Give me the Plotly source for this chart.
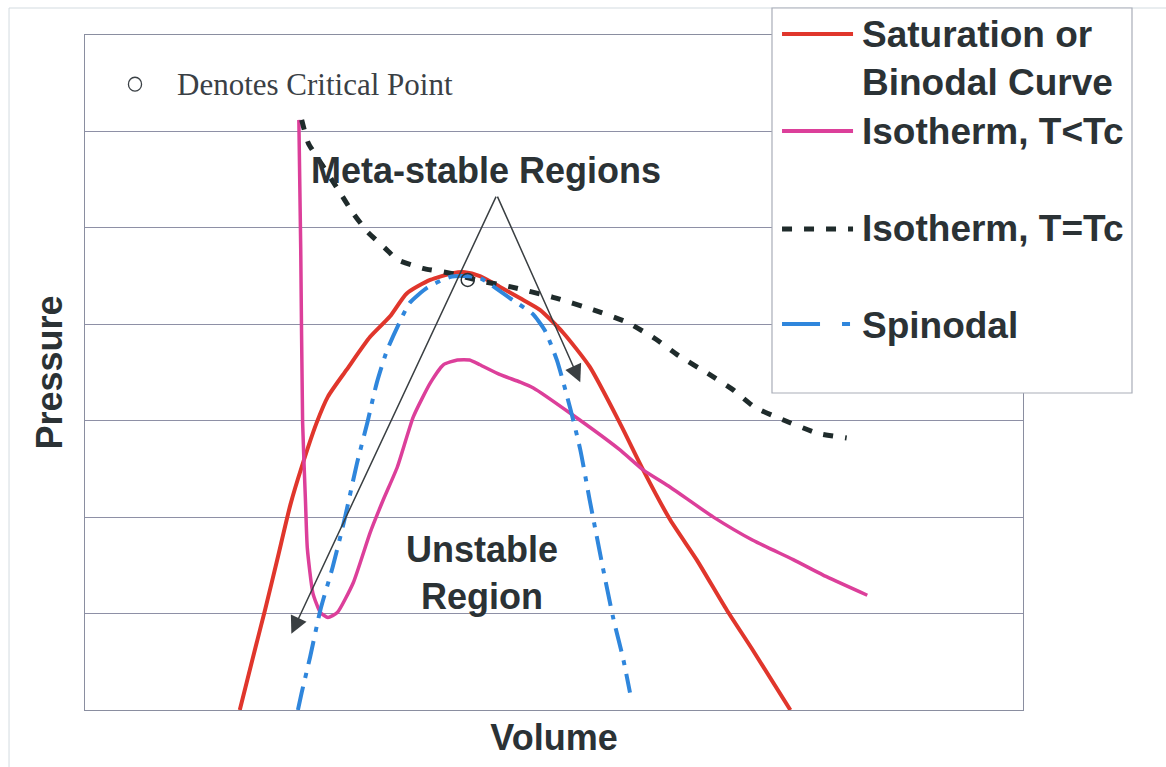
import plotly.graph_objects as go

# ---- data (Volume, Pressure in arbitrary units) ----
sat_v = [1.65, 1.81, 1.92, 2.05, 2.19, 2.31, 2.47, 2.59, 2.79, 3.04, 3.25, 3.43, 3.68, 3.92, 4.05,
         4.21, 4.42, 4.64, 4.85, 5.10, 5.38, 5.70, 5.95, 6.24, 6.52, 6.84, 7.12, 7.52]
sat_p = [0.00, 0.62, 1.04, 1.56, 2.13, 2.52, 2.98, 3.25, 3.53, 3.87, 4.08, 4.32, 4.46, 4.53, 4.54,
         4.50, 4.39, 4.27, 4.15, 3.91, 3.56, 2.98, 2.49, 1.97, 1.56, 1.04, 0.62, 0.00]

iso_lt_v = [2.28, 2.30, 2.32, 2.35, 2.37, 2.43, 2.51, 2.59, 2.69, 2.86, 3.04, 3.18, 3.33, 3.50, 3.68,
            3.82, 3.97, 4.10, 4.21, 4.42, 4.64, 4.78, 5.17, 5.70, 5.95, 6.24, 6.70, 7.12, 7.55, 7.91, 8.34]
iso_lt_p = [6.12, 4.77, 2.98, 2.18, 1.68, 1.21, 1.01, 0.96, 1.01, 1.32, 1.84, 2.18, 2.52, 3.04, 3.39,
            3.58, 3.63, 3.63, 3.58, 3.48, 3.40, 3.34, 3.08, 2.70, 2.49, 2.31, 2.00, 1.76, 1.56, 1.38, 1.19]

iso_c_v = [2.31, 2.38, 2.53, 2.69, 2.86, 3.01, 3.22, 3.33, 3.60, 3.89, 4.21, 4.53, 4.99, 5.42, 5.78,
           6.08, 6.32, 6.64, 6.91, 7.14, 7.44, 7.81, 8.12]
iso_c_p = [6.12, 5.88, 5.65, 5.41, 5.15, 4.96, 4.77, 4.67, 4.58, 4.53, 4.45, 4.39, 4.28, 4.15, 4.02,
           3.85, 3.68, 3.49, 3.32, 3.14, 3.01, 2.87, 2.82]

spin_v = [2.27, 2.31, 2.40, 2.51, 2.64, 2.77, 2.90, 3.01, 3.11, 3.22, 3.33, 3.46, 3.65, 3.89, 4.05,
          4.21, 4.56, 4.77, 4.90, 5.03, 5.17, 5.28, 5.38, 5.52, 5.63, 5.74, 5.81]
spin_p = [0.00, 0.18, 0.55, 1.04, 1.48, 1.99, 2.56, 2.98, 3.39, 3.73, 3.97, 4.22, 4.38, 4.49, 4.50,
          4.48, 4.25, 4.11, 3.94, 3.63, 3.14, 2.70, 2.18, 1.48, 0.96, 0.52, 0.18]

crit_v, crit_p = [4.08], [4.46]

series_names = ["Saturation or<br>Binodal Curve", "Isotherm, T<Tc", "Isotherm, T=Tc", "Spinodal"]

RED = "#e0362c"
MAG = "#dc3f9a"
BLK = "#1f2b2b"
BLU = "#2f86dc"
TXT = "#2b3235"
GRID = "#8e90a6"

fig = go.Figure()
fig.add_trace(go.Scatter(x=sat_v, y=sat_p, mode="lines", name="Saturation or Binodal Curve",
                         line=dict(color=RED, width=4, shape="spline", smoothing=0.6)))
fig.add_trace(go.Scatter(x=iso_lt_v, y=iso_lt_p, mode="lines", name="Isotherm, T<Tc",
                         line=dict(color=MAG, width=3.5, shape="spline", smoothing=0.5)))
fig.add_trace(go.Scatter(x=iso_c_v, y=iso_c_p, mode="lines", name="Isotherm, T=Tc",
                         line=dict(color=BLK, width=5, dash="10px,12px", shape="spline", smoothing=0.5)))
fig.add_trace(go.Scatter(x=spin_v, y=spin_p, mode="lines", name="Spinodal",
                         line=dict(color=BLU, width=4, dash="24px,9px,5px,9px", shape="spline", smoothing=0.6)))
fig.add_trace(go.Scatter(x=crit_v, y=crit_p, mode="markers", name="Critical Point",
                         marker=dict(symbol="circle-open", size=13, color="#2b3235", line=dict(width=1.5)),
                         showlegend=False))

BOLD = dict(family="Liberation Sans, Arial, sans-serif", size=36, color=TXT, weight="bold")
LEGF = dict(family="Liberation Sans, Arial, sans-serif", size=37, color=TXT, weight="bold")

# ---- arrows (Meta-stable regions) ----
apex = (4.39, 5.34)
for tip in [(2.20, 0.79), (5.28, 3.40)]:
    fig.add_annotation(x=tip[0], y=tip[1], ax=apex[0], ay=apex[1], xref="x", yref="y",
                       axref="x", ayref="y", text="", showarrow=True, arrowhead=2,
                       arrowsize=2.3, arrowwidth=1.5, arrowcolor="#3a3f42")

fig.add_annotation(x=4.28, y=5.60, xref="x", yref="y", text="Meta-stable Regions",
                   showarrow=False, font=BOLD, yanchor="middle")
fig.add_annotation(x=4.23, y=1.42, xref="x", yref="y", text="Unstable<br>Region",
                   showarrow=False, font=BOLD, yanchor="middle")

# ---- critical point note ----
fig.add_shape(type="circle", xref="x", yref="y", x0=0.533 - 0.07, x1=0.533 + 0.07,
              y0=6.49 - 0.072, y1=6.49 + 0.072, line=dict(color="#3a4045", width=1.3))
fig.add_annotation(x=0.0959, y=0.9274, xref="paper", yref="paper", xanchor="left", yanchor="middle",
                   text="Denotes Critical Point", showarrow=False,
                   font=dict(family="Liberation Serif, Times New Roman, serif", size=31, color="#3a4045"))

# ---- manual legend ----
fig.add_shape(type="rect", xref="paper", yref="paper", x0=0.7324, x1=1.1162, y0=0.4696, y1=1.04,
              fillcolor="white", line=dict(color="#a9adb8", width=1.2), layer="above")
leg_y = [1.0015, 0.8578, 0.7126, 0.5719]
leg_style = [dict(color=RED, width=4), dict(color=MAG, width=4),
             dict(color=BLK, width=5, dash="10px,12px"), dict(color=BLU, width=4, dash="38px,22px,8px,9px")]
txt_y = [0.9659, 0.8563, 0.7126, 0.5689]
for ly, st, ty, nm in zip(leg_y, leg_style, txt_y, series_names):
    fig.add_shape(type="line", xref="paper", yref="paper", x0=0.7431, x1=0.8188, y0=ly, y1=ly,
                  line=st, layer="above")
    fig.add_annotation(x=0.8262, y=ty, xref="paper", yref="paper", xanchor="left", yanchor="middle",
                       align="left", text=nm, showarrow=False, font=LEGF)

# outer faint chart frame
fig.add_shape(type="rect", xref="paper", yref="paper", x0=-0.081, x1=1.25, y0=-0.2, y1=1.04,
              line=dict(color="#d3dbe0", width=1), layer="below")

fig.update_layout(
    width=1166, height=767,
    margin=dict(l=85, r=143, t=35, b=57),
    paper_bgcolor="white", plot_bgcolor="white",
    showlegend=False,
    xaxis=dict(range=[0, 10], showgrid=False, zeroline=False, showticklabels=False, ticks="",
               showline=True, linecolor="#8a8ea0", linewidth=1.3, mirror=True,
               title=dict(text="Volume", font=BOLD, standoff=14)),
    yaxis=dict(range=[0, 7], dtick=1, showgrid=True, gridcolor=GRID, gridwidth=1, zeroline=False,
               showticklabels=False, ticks="",
               showline=True, linecolor="#8a8ea0", linewidth=1.3, mirror=True,
               title=dict(text="Pressure", font=BOLD, standoff=10)),
)

fig.write_html("out.html")
